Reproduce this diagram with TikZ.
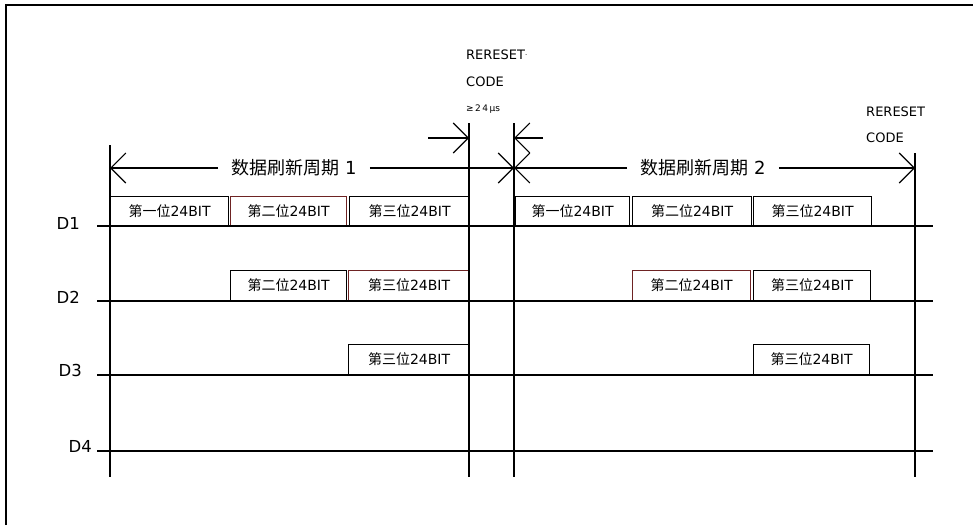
\documentclass[tikz,border=0pt]{standalone}
\usepackage{fontspec}
\setmainfont{DejaVu Sans}
\newfontfamily\cjk{Noto Sans CJK SC}
\usetikzlibrary{arrows.meta}
\definecolor{edgered}{RGB}{110,35,35}
\begin{document}
\begin{tikzpicture}[x=1pt,y=-1pt,
  sig/.style={line width=2.8pt},
  vline/.style={line width=1.3pt},
  dim/.style={line width=1.1pt,-{Straight Barb[length=15pt,width=30pt]}},
  bitbox/.style={draw,line width=1.1pt,anchor=south west,minimum height=29pt,inner sep=0pt,
    font=\fontsize{14}{14}\selectfont,fill=white},
  lbl/.style={font=\fontsize{16.5}{16.5}\selectfont,anchor=east,inner sep=0pt},
  rtxt/.style={font=\fontsize{13}{13}\selectfont,anchor=west,inner sep=0pt},
  per/.style={font=\fontsize{18}{18}\selectfont,inner ysep=0pt,inner xsep=13pt}
]
\useasboundingbox[fill=white] (0,0) rectangle (973,525);
% frame
\draw[line width=2pt] (6,525) -- (6,5) -- (973,5);

% boxes, period 1
\node[bitbox,minimum width=118pt] (a11) at (110,226) {{\cjk 第一位}24BIT};
\node[bitbox,minimum width=116pt,draw=edgered] (a12) at (230,226) {{\cjk 第二位}24BIT};
\node[bitbox,minimum width=120pt] (a13) at (349,226) {{\cjk 第三位}24BIT};
\node[bitbox,minimum width=116pt,minimum height=30pt] (a22) at (230,301) {{\cjk 第二位}24BIT};
\node[bitbox,minimum width=121pt,minimum height=30pt,draw=edgered] (a23) at (348,301) {{\cjk 第三位}24BIT};
\node[bitbox,minimum width=121pt,minimum height=30pt] (a33) at (348,375) {{\cjk 第三位}24BIT};
% boxes, period 2
\node[bitbox,minimum width=114pt] (b11) at (515,226) {{\cjk 第一位}24BIT};
\node[bitbox,minimum width=119pt] (b12) at (632,226) {{\cjk 第二位}24BIT};
\node[bitbox,minimum width=118pt] (b13) at (753,226) {{\cjk 第三位}24BIT};
\node[bitbox,minimum width=118pt,minimum height=30pt,draw=edgered] (b22) at (632,301) {{\cjk 第二位}24BIT};
\node[bitbox,minimum width=117pt,minimum height=30pt] (b23) at (753,301) {{\cjk 第三位}24BIT};
\node[bitbox,minimum width=116pt,minimum height=30pt] (b33) at (753,375) {{\cjk 第三位}24BIT};

% signal lines
\foreach \n/\y in {1/226,2/301,3/375,4/451}{
  \coordinate (s\n a) at (97,\y);
  \coordinate (s\n b) at (933,\y);
  \draw[sig] (s\n a) -- (s\n b);
}
\node[lbl] (d1) at (80,223) {D1};
\node[lbl] (d2) at (80,297) {D2};
\node[lbl] (d3) at (82,370) {D3};
\node[lbl] (d4) at (92,446) {D4};

% vertical lines
\coordinate (v1t) at (110,145); \coordinate (v1b) at (110,477);
\coordinate (v2t) at (469,123); \coordinate (v2b) at (469,477);
\coordinate (v3t) at (514,123); \coordinate (v3b) at (514,477);
\coordinate (v4t) at (915,153); \coordinate (v4b) at (915,477);
\draw[vline] (v1t) -- (v1b);
\draw[vline] (v2t) -- (v2b);
\draw[vline] (v3t) -- (v3b);
\draw[vline] (v4t) -- (v4b);

% period arrows
\node[per] (p1) at (294,168) {{\cjk 数据刷新周期} 1};
\node[per] (p2) at (703,168) {{\cjk 数据刷新周期} 2};
\coordinate (e1l) at (110,168);
\coordinate (e1r) at (514,168);
\coordinate (e2l) at (514,168);
\coordinate (e2r) at (915,168);
\draw[dim] (p1.west) -- (e1l);
\draw[dim] (p1.east) -- (e1r);
\draw[dim] (p2.west) -- (e2l);
\draw[dim] (p2.east) -- (e2r);

% reset width arrows
\coordinate (r1s) at (428,138); \coordinate (r1e) at (469,138);
\coordinate (r2s) at (543,138); \coordinate (r2e) at (514,138);
\draw[dim] (r1s) -- (r1e);
\draw[dim] (r2s) -- (r2e);

% reset labels
\node[rtxt] (rs1) at (466,55) {RERESET\raisebox{0.3ex}{\fontsize{7}{7}\selectfont·}};
\node[rtxt] (cd1) at (466,82) {CODE};
\node[rtxt,font=\fontsize{9}{9}\selectfont] (us1) at (466,109) {≥\,2\,4\,μs};
\node[rtxt] (rs2) at (866,112) {RERESET};
\node[rtxt] (cd2) at (866,138) {CODE};
\end{tikzpicture}
\end{document}
